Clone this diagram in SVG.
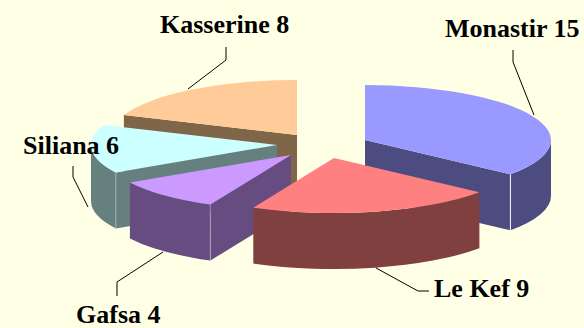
<svg xmlns="http://www.w3.org/2000/svg" width="584" height="328" viewBox="0 0 584 328">
<style>
.lbl{font-family:"Liberation Serif","Times New Roman",serif;font-weight:bold;font-size:26px;fill:#000}
.leader{stroke:#000;stroke-width:1;fill:none}
.edge{stroke:#fff;stroke-width:1;fill:none}
.soft{stroke:#fff;stroke-opacity:0.35;stroke-width:1;fill:none}
</style>
<rect width="584" height="328" fill="#FFFFE5"/>
<g id="kasserine">
<path d="M297,135 L123.9,114.9 L123.9,170.9 L297,191 Z" fill="#806648"/>
<path d="M297,135 L297,80 A186 55 0 0 0 123.9,114.9 Z" fill="#FFCC99"/>
<text class="lbl" x="160" y="33">Kasserine 8</text>
</g>
<g id="monastir">
<path d="M365,140 L510.4,174.3 L510.4,230.3 L365,196 Z" fill="#4C4C80"/>
<path d="M510.4,174.3 A186 55 0 0 0 551,140 L551,196 A186 55 0 0 1 510.4,230.3 Z" fill="#4C4C80"/>
<path d="M365,140 L365,85 A186 55 0 0 1 510.4,174.3 Z" fill="#9999FF"/>
<line class="edge" x1="510.4" y1="174.3" x2="510.4" y2="230.3"/>
<text class="lbl" x="445" y="37">Monastir 15</text>
</g>
<g id="siliana">
<path d="M277,145 L115.9,172.5 L115.9,228.5 L277,201 Z" fill="#668080"/>
<path d="M91,145 A186 55 0 0 0 115.9,172.5 L115.9,228.5 A186 55 0 0 1 91,201 Z" fill="#668080"/>
<path d="M277,145 L115.9,172.5 A186 55 0 0 1 103.9,124.9 Z" fill="#CCFFFF"/>
<line class="soft" x1="115.9" y1="172.5" x2="115.9" y2="228.5"/>
<text class="lbl" x="23" y="154">Siliana 6</text>
</g>
<g id="gafsa">
<path d="M291,155 L210.3,204.6 L210.3,260.6 L291,211 Z" fill="#664C80"/>
<path d="M210.3,204.6 A186 55 0 0 1 129.9,182.5 L129.9,238.5 A186 55 0 0 0 210.3,260.6 Z" fill="#664C80"/>
<path d="M291,155 L210.3,204.6 A186 55 0 0 1 129.9,182.5 Z" fill="#CC99FF"/>
<line class="soft" x1="210.3" y1="204.6" x2="210.3" y2="260.6"/>
<text class="lbl" x="76" y="323">Gafsa 4</text>
</g>
<g id="lekef">
<path d="M479.4,192.3 A186 55 0 0 1 253.3,207.6 L253.3,263.6 A186 55 0 0 0 479.4,248.3 Z" fill="#804040"/>
<path d="M334,158 L479.4,192.3 A186 55 0 0 1 253.3,207.6 Z" fill="#FF8080"/>
<text class="lbl" x="434" y="297">Le Kef 9</text>
</g>
<g id="connectors">
<polyline class="leader" points="226,47 226,60 188,89"/>
<polyline class="leader" points="513,50 513,62 534,115"/>
<polyline class="leader" points="73,166 73,177 88,207"/>
<polyline class="leader" points="117,296 117,282 163,252"/>
<polyline class="leader" points="429,291 418,291 376,268"/>
</g>
</svg>
